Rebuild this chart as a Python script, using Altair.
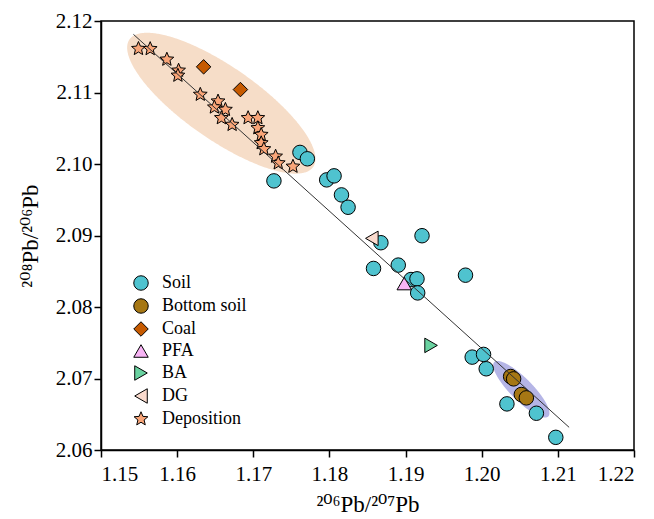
import altair as alt
import pandas as pd
import numpy as np

# ---------------- data ----------------
groups = ["Soil", "Bottom soil", "Coal", "PFA", "BA", "DG", "Deposition"]
colors = ["#4fc3cf", "#a67714", "#c65a00", "#f8b4f5", "#69d2a0", "#fadacd", "#f9a578"]

soil_x = [1.17613, 1.17710, 1.17271, 1.17964, 1.18061, 1.18158, 1.18245, 1.18676, 1.19216,
          1.18579, 1.18904, 1.19071, 1.19150, 1.19159, 1.19787, 1.19875, 1.20024, 1.20059,
          1.20331, 1.20718, 1.20973]
soil_y = [2.10162, 2.10073, 2.09764, 2.09778, 2.09834, 2.09568, 2.09395, 2.08899, 2.08997,
          2.08539, 2.08586, 2.08384, 2.08394, 2.08197, 2.08445, 2.07299, 2.07337, 2.07136,
          2.06645, 2.06514, 2.06177]
bottom_x = [1.20380, 1.20419, 1.20520, 1.20586]
bottom_y = [2.07028, 2.06995, 2.06776, 2.06729]
coal_x = [1.16348, 1.16831]
coal_y = [2.11359, 2.11041]
pfa_x = [1.18983]
pfa_y = [2.08328]
ba_x = [1.19335]
ba_y = [2.07463]
dg_x = [1.18557]
dg_y = [2.08960]
dep_x = [1.15492, 1.15646, 1.15865, 1.16019, 1.16010, 1.16304, 1.16537, 1.16489, 1.16634,
         1.16581, 1.16722, 1.16932, 1.17060, 1.17060, 1.17104, 1.17104, 1.17139, 1.17293,
         1.17328, 1.17521]
dep_y = [2.11612, 2.11610, 2.11462, 2.11308, 2.11238, 2.10971, 2.10877, 2.10793, 2.10760,
         2.10644, 2.10550, 2.10644, 2.10644, 2.10503, 2.10410, 2.10293, 2.10209, 2.10106,
         2.10012, 2.09965]

# regression line end points
line_x = [1.15426, 1.21148]
line_y = [2.11813, 2.06317]

# confidence ellipses: centre x, centre y, semi-major, semi-minor, angle (deg)
ell_orange = [1.1658, 2.1085, 0.0150, 0.0050, -36.9]
ell_blue = [1.2052, 2.0685, 0.0052, 0.0015, -47.3]

# ---------------- build tables ----------------
draw_order = [("Soil", soil_x, soil_y), ("Bottom soil", bottom_x, bottom_y),
              ("Coal", coal_x, coal_y), ("Deposition", dep_x, dep_y),
              ("PFA", pfa_x, pfa_y), ("BA", ba_x, ba_y), ("DG", dg_x, dg_y)]
rows = []
for g, xs_, ys_ in draw_order:
    for a, b in zip(xs_, ys_):
        rows.append({"group": g, "x": a, "y": b})
pts = pd.DataFrame(rows)


def ellipse_band(p, n=200):
    cx, cy, a, b, ang = p
    t = np.radians(ang)
    c, s = np.cos(t), np.sin(t)
    half = np.sqrt(a * a * c * c + b * b * s * s)
    u = -half * np.cos(np.linspace(0, np.pi, n))
    A = s * s / a ** 2 + c * c / b ** 2
    B = 2 * u * s * c * (1 / a ** 2 - 1 / b ** 2)
    C = u * u * (c * c / a ** 2 + s * s / b ** 2) - 1
    disc = np.clip(B * B - 4 * A * C, 0, None)
    v1 = (-B - np.sqrt(disc)) / (2 * A)
    v2 = (-B + np.sqrt(disc)) / (2 * A)
    return pd.DataFrame({"x": cx + u, "y": cy + v1, "y2": cy + v2})


FONT = "Liberation Serif, Times New Roman, DejaVu Serif, serif"

xs = alt.Scale(domain=[1.15, 1.22], nice=False, zero=False)
ys = alt.Scale(domain=[2.06, 2.12], nice=False, zero=False)

star = ("M0,-1L0.265,-0.364L0.951,-0.309L0.428,0.139L0.588,0.809L0,0.45"
        "L-0.588,0.809L-0.428,0.139L-0.951,-0.309L-0.265,-0.364Z")
shapes = ["circle", "circle", "diamond", "triangle-up", "triangle-right", "triangle-left", star]
sizes = [210, 210, 320, 300, 300, 300, 360]

xaxis = alt.Axis(values=[1.15, 1.16, 1.17, 1.18, 1.19, 1.20, 1.21, 1.22], format=".2f",
                 title="²⁰⁶Pb/²⁰⁷Pb", titlePadding=9, labelPadding=6)
yaxis = alt.Axis(values=[2.06, 2.07, 2.08, 2.09, 2.10, 2.11, 2.12], format=".2f",
                 title="²⁰⁸Pb/²⁰⁶Pb", titlePadding=13, labelPadding=2)

e1 = alt.Chart(ellipse_band(ell_orange)).mark_area(color="#f6ddc8", opacity=1).encode(
    x=alt.X("x:Q", scale=xs, axis=xaxis), y=alt.Y("y:Q", scale=ys, axis=yaxis), y2="y2:Q")
e2 = alt.Chart(ellipse_band(ell_blue)).mark_area(color="#b5b5e6", opacity=1).encode(
    x=alt.X("x:Q", scale=xs), y=alt.Y("y:Q", scale=ys), y2="y2:Q")

legend = alt.Legend(
    title=None, orient="none", legendX=31, legendY=253,
    symbolStrokeColor="black", symbolStrokeWidth=1, symbolOpacity=1,
)

points = alt.Chart(pts).mark_point(filled=True, stroke="black", strokeWidth=1, opacity=1).encode(
    x=alt.X("x:Q", scale=xs),
    y=alt.Y("y:Q", scale=ys),
    color=alt.Color("group:N", scale=alt.Scale(domain=groups, range=colors), legend=legend),
    shape=alt.Shape("group:N", scale=alt.Scale(domain=groups, range=shapes)),
    size=alt.Size("group:N", scale=alt.Scale(domain=groups, range=sizes), legend=None),
)

lines = alt.Chart(pd.DataFrame({"x": line_x, "y": line_y})).mark_line(
    color="#333333", strokeWidth=1).encode(x=alt.X("x:Q", scale=xs), y=alt.Y("y:Q", scale=ys))

chart = alt.layer(e1, e2, points, lines).properties(
    width=533, height=429,
    autosize=alt.AutoSizeParams(type="none"),
    padding={"left": 101, "top": 21, "right": 20, "bottom": 69},
    background="white",
).configure_view(stroke="black", strokeWidth=1.5).configure_axis(
    grid=False, domainColor="black", domainWidth=1.5, tickColor="black", tickWidth=1.5,
    tickSize=7, labelFont=FONT, labelFontSize=21, labelColor="black",
    titleFont=FONT, titleFontSize=23,
    titleFontWeight="normal", titleColor="black",
).configure_legend(
    labelFont=FONT, labelFontSize=18, labelColor="black", symbolSize=270,
    rowPadding=3, labelOffset=12, padding=0,
)

chart.save("out.html", embed_options={"renderer": "svg", "actions": False})
